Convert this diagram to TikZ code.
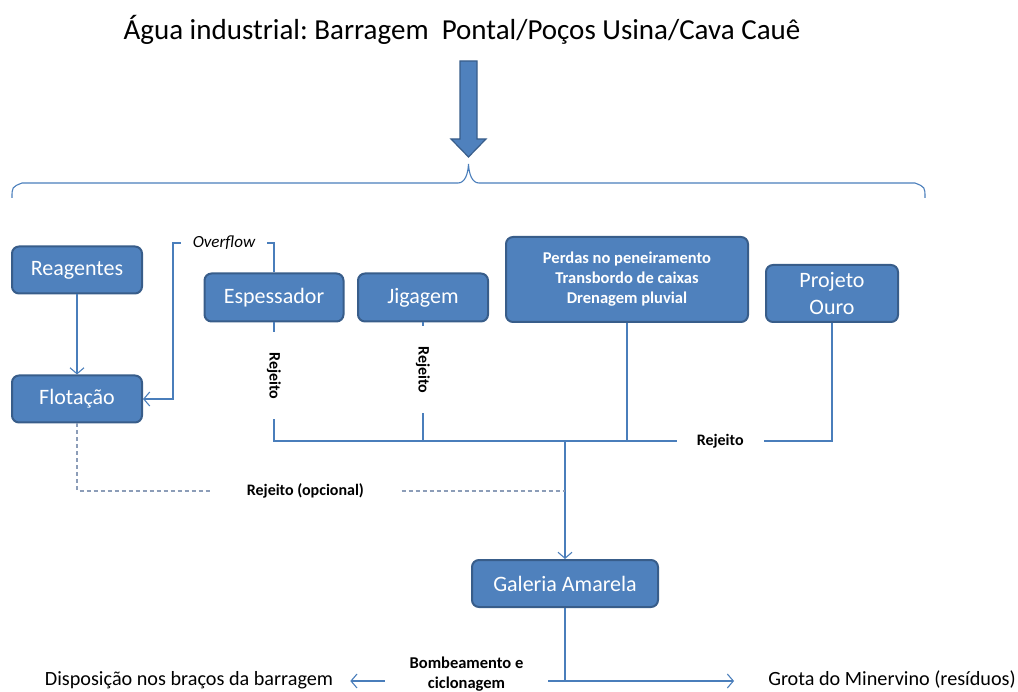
\documentclass[tikz,border=0pt]{standalone}
\usepackage{fontspec}
\setmainfont{Carlito}
\usetikzlibrary{arrows.meta}
\definecolor{boxfill}{HTML}{4F81BD}
\definecolor{boxline}{HTML}{385D8A}
\definecolor{linkc}{HTML}{4A7EBB}
\definecolor{dashc}{HTML}{8C9DB8}
\begin{document}
\begin{tikzpicture}[x=1pt,y=-1pt,>={Straight Barb[length=6pt,width=14pt]},
        box/.style={draw=boxline,line width=2pt,fill=boxfill,rounded corners=7pt,text=white,
                inner sep=0pt,align=center,font=\fontsize{22}{27}\selectfont},
        link/.style={draw=linkc,line width=1.1pt},
        dashlink/.style={draw=dashc,line width=1.1pt,dash pattern=on 4pt off 3pt},
        lbl/.style={font=\fontsize{16}{19}\selectfont\bfseries,fill=white,inner ysep=2pt},
        plain/.style={font=\fontsize{20.2}{24}\selectfont,inner sep=0pt}]
        \useasboundingbox (0,0) rectangle (1018,692);
        \node[inner sep=0pt,font=\fontsize{29}{34}\selectfont\frenchspacing] (title) at (462,30)
                {Água industrial: Barragem\ \ Pontal/Poços Usina/Cava Cauê};
        % entrada de agua
        \draw[fill=boxfill,draw=boxline,line width=1.2pt] (460,61) -- (477,61) -- (477,139) -- (486,139)
                -- (468.5,157) -- (451,139) -- (460,139) -- cycle;
        \draw[link] (12,198) .. controls (12,187) .. (22,183) -- (458,183)
                .. controls (465,183) and (468,174) .. (468.5,164)
                .. controls (469,174) and (472,183) .. (479,183) -- (915,183)
                .. controls (925,187) .. (925,198);
        \node[box,minimum width=130,minimum height=47] (reag) at (77,270) {Reagentes};
        \node[box,minimum width=130,minimum height=47] (flot) at (77,399) {Flotação};
        \node[box,minimum width=139,minimum height=48] (esp) at (274,297.5) {Espessador};
        \node[box,minimum width=130,minimum height=48] (jig) at (423,297.5) {Jigagem};
        \node[box,minimum width=242,minimum height=85,font=\fontsize{16.5}{20}\selectfont\bfseries] (perdas) at (627,279.5)
                {Perdas no peneiramento\\Transbordo de caixas\\Drenagem pluvial};
        \node[box,minimum width=132,minimum height=57] (ouro) at (832,293.5) {Projeto\\Ouro};
        \node[box,minimum width=186,minimum height=47] (gal) at (565,583.5) {Galeria Amarela};
        \coordinate (ovf) at (173,243);
        \coordinate (bus) at (273,441);
        \coordinate (opc) at (0,491);
        \coordinate (split) at (0,681);
        \draw[->,link] (reag) -- (flot);
        \draw[->,link] (esp.north) |- (ovf) |- (flot.east);
        \node[fill=white,inner xsep=12pt,font=\fontsize{17}{20}\selectfont\itshape] (ovftxt) at (224,243) {Overflow};
        \draw[link] (esp.south) -- node[lbl,rotate=-90,pos=.45,inner xsep=20pt] (rejesp) {Rejeito} (esp.south |- bus);
        \draw[link] (jig.south) -- node[lbl,rotate=-90,pos=.4,inner xsep=20pt] (rejjig) {Rejeito} (jig.south |- bus);
        \draw[link] (perdas.south) -- (perdas.south |- bus);
        \draw[link] (ouro.south) |- node[lbl,pos=.6,inner xsep=20pt] (rejouro) {Rejeito} (bus);
        \draw[->,link] (gal.north |- bus) -- (gal.north);
        \draw[dashlink] (flot.south) |- node[lbl,pos=.734,inner xsep=35pt] (rejopc) {Rejeito (opcional)} (gal.north |- opc);
        % saida
        \node[plain] (disp) at (189,680) {Disposição nos braços da barragem};
        \node[plain] (grota) at (892,680) {Grota do Minervino (resíduos)};
        \node[font=\fontsize{16.5}{20}\selectfont\bfseries,align=center,minimum width=163,inner sep=0pt] (bomb) at (466.5,674)
                {Bombeamento e\\ciclonagem};
        \draw[link] (gal.south) -- (gal.south |- split);
        \draw[->,link] (bomb.east |- split) -- ([xshift=-34pt]grota.west |- split);
        \draw[->,link] (bomb.west |- split) -- ([xshift=17pt]disp.east |- split);
\end{tikzpicture}
\end{document}
